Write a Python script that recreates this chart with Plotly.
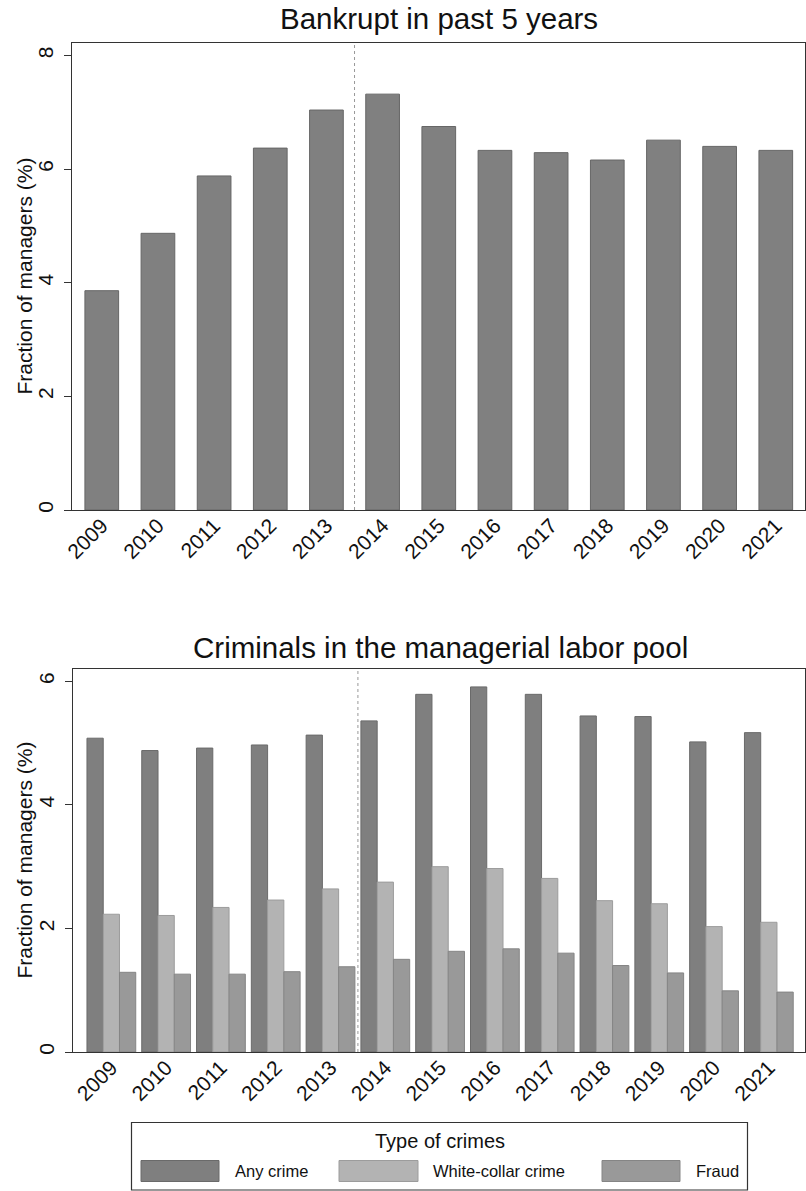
import plotly.graph_objects as go

years = ["2009", "2010", "2011", "2012", "2013", "2014", "2015",
         "2016", "2017", "2018", "2019", "2020", "2021"]

bankrupt = [3.86, 4.87, 5.88, 6.37, 7.04, 7.32, 6.75, 6.33, 6.29, 6.16, 6.51, 6.40, 6.33]

any_crime = [5.08, 4.88, 4.92, 4.97, 5.13, 5.36, 5.79, 5.91, 5.79, 5.44, 5.43, 5.02, 5.17]
white_collar = [2.23, 2.21, 2.34, 2.46, 2.64, 2.75, 3.00, 2.97, 2.81, 2.45, 2.40, 2.03, 2.10]
fraud = [1.29, 1.26, 1.26, 1.30, 1.38, 1.50, 1.63, 1.67, 1.60, 1.40, 1.28, 0.99, 0.97]

series_names = ["Any crime", "White-collar crime", "Fraud"]
series_colors = ["#7f7f7f", "#b3b3b3", "#999999"]
series_lines = ["#6a6a6a", "#9c9c9c", "#858585"]

break_position = 4.5  # dotted line between 2013 and 2014

W, H = 806, 1191
FONT = "Liberation Sans"
TXT = "#111111"

def px_x(v):
    return v / W

def px_y(v):
    return 1 - v / H

fig = go.Figure()

fig.add_trace(go.Bar(
    x=years, y=bankrupt, xaxis="x", yaxis="y",
    marker=dict(color="#808080", line=dict(color="#666666", width=1)),
    width=0.6, showlegend=False,
))

for name, vals, col, lc in zip(series_names, [any_crime, white_collar, fraud],
                               series_colors, series_lines):
    fig.add_trace(go.Bar(
        x=years, y=vals, xaxis="x2", yaxis="y2", name=name,
        marker=dict(color=col, line=dict(color=lc, width=1)),
        showlegend=False,
    ))

frame = dict(showline=True, mirror=True, linecolor="#333333", linewidth=1.3,
             showgrid=False, zeroline=False, automargin=False)
xax = dict(ticks="", tickangle=-45, ticklabelstandoff=-6,
           tickfont=dict(family=FONT, size=21, color=TXT), **frame)
yax = dict(ticks="outside", ticklen=7, tickcolor="#333333", tickangle=-90,
           ticklabelstandoff=2, tickfont=dict(family=FONT, size=21, color=TXT), **frame)

fig.update_layout(
    width=W, height=H,
    margin=dict(l=0, r=0, t=0, b=0),
    paper_bgcolor="white", plot_bgcolor="white",
    font=dict(family=FONT, color=TXT),
    barmode="group", bargap=0.11, bargroupgap=0.0,
    xaxis=dict(domain=[px_x(72), px_x(805)], anchor="y", type="category",
               range=[-0.53, 12.52], **xax),
    yaxis=dict(domain=[px_y(510), px_y(43)], anchor="x", range=[0, 8.22],
               tickvals=[0, 2, 4, 6, 8], **yax),
    xaxis2=dict(domain=[px_x(73), px_x(805)], anchor="y2", type="category",
                range=[-0.70, 12.66], **xax),
    yaxis2=dict(domain=[px_y(1052), px_y(669)], anchor="x2", range=[0, 6.2],
                tickvals=[0, 2, 4, 6], **yax),
)

# dotted separators
for xr, yr in [("x", "y domain"), ("x2", "y2 domain")]:
    fig.add_shape(type="line", xref=xr, yref=yr, x0=break_position, x1=break_position,
                  y0=0, y1=1, line=dict(color="#999999", width=1, dash="dot"))

def note(text, x, y, size, xanchor="center", angle=0):
    fig.add_annotation(text=text, xref="paper", yref="paper", x=px_x(x), y=px_y(y),
                       xanchor=xanchor, yanchor="middle", showarrow=False,
                       textangle=angle, font=dict(family=FONT, size=size, color=TXT))

# y-axis titles
for yc in (276.5, 860.5):
    note("Fraction of managers (%)", 24, yc, 21, angle=-90)

# panel titles
note("Bankrupt in past 5 years", 439, 18, 29.5)
note("Criminals in the managerial labor pool", 440, 647, 29.5)

# legend box
fig.add_shape(type="rect", xref="paper", yref="paper",
              x0=px_x(131.5), x1=px_x(747.5), y0=px_y(1190), y1=px_y(1122.5),
              line=dict(color="#333333", width=1.2), fillcolor="rgba(0,0,0,0)")
note("Type of crimes", 440, 1141, 20)
sw_x = [(141, 219), (339, 418), (602, 680)]
txt_x = [233, 431, 694]
for (a, b), tx, name, col, lc in zip(sw_x, txt_x, series_names, series_colors, series_lines):
    fig.add_shape(type="rect", xref="paper", yref="paper",
                  x0=px_x(a), x1=px_x(b), y0=px_y(1181.5), y1=px_y(1160.5),
                  line=dict(color=lc, width=1), fillcolor=col)
    note(name, tx, 1171, 16.5, xanchor="left")

fig.write_html("out.html", config={"displayModeBar": False},
               post_script="document.body.style.margin='0';")
